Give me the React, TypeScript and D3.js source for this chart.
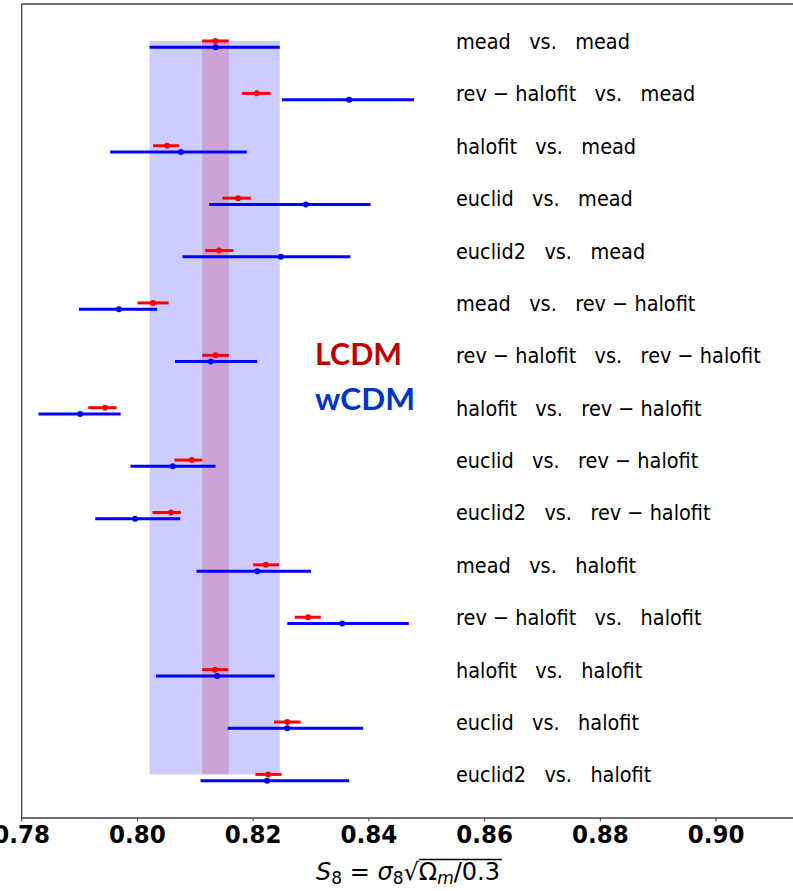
import React, { useLayoutEffect, useRef, useState } from "react";
import * as d3 from "d3";

const W = 793;
const H = 891;

const labels = [
  "mead   vs.   mead",
  "rev − halofit   vs.   mead",
  "halofit   vs.   mead",
  "euclid   vs.   mead",
  "euclid2   vs.   mead",
  "mead   vs.   rev − halofit",
  "rev − halofit   vs.   rev − halofit",
  "halofit   vs.   rev − halofit",
  "euclid   vs.   rev − halofit",
  "euclid2   vs.   rev − halofit",
  "mead   vs.   halofit",
  "rev − halofit   vs.   halofit",
  "halofit   vs.   halofit",
  "euclid   vs.   halofit",
  "euclid2   vs.   halofit",
];

const lcdmMean = [0.8135, 0.8206, 0.8051, 0.8174, 0.8141, 0.8027, 0.8135, 0.7944, 0.8094, 0.8058, 0.8222, 0.8295, 0.8134, 0.8259, 0.8226];
const lcdmLo = [0.8112, 0.8181, 0.8027, 0.8147, 0.8117, 0.8, 0.8112, 0.7915, 0.8064, 0.8026, 0.82, 0.8272, 0.8112, 0.8236, 0.8204];
const lcdmHi = [0.8158, 0.823, 0.8072, 0.8196, 0.8166, 0.8054, 0.8158, 0.7964, 0.8112, 0.8075, 0.8245, 0.8317, 0.8157, 0.8282, 0.8249];

const wcdmMean = [0.8135, 0.8366, 0.8075, 0.8291, 0.8248, 0.7968, 0.8127, 0.7901, 0.8061, 0.7996, 0.8207, 0.8354, 0.8138, 0.8259, 0.8224];
const wcdmLo = [0.8021, 0.825, 0.7953, 0.8124, 0.8078, 0.7899, 0.8065, 0.7829, 0.7988, 0.7927, 0.8102, 0.8259, 0.8032, 0.8156, 0.8109];
const wcdmHi = [0.8246, 0.8478, 0.8189, 0.8403, 0.8368, 0.8034, 0.8207, 0.7971, 0.8135, 0.8074, 0.83, 0.8469, 0.8237, 0.839, 0.8366];

const tickValues = [0.78, 0.8, 0.82, 0.84, 0.86, 0.88, 0.9];
const tickLabels = ["0.78", "0.80", "0.82", "0.84", "0.86", "0.88", "0.90"];

const BLUE_OFFSET = 0.12; // row units

const x = d3.scaleLinear().domain([0.78, 0.9133]).range([21.7, 793]);
const y = d3.scaleLinear().domain([-0.706, 14.832]).range([4, 818]);

const LEFT = 21.7;
const TOP = 4;
const BOTTOM = 818;
const SX = 0.92;

export default function App() {
  const labelRef = useRef<SVGTextElement>(null);
  const [over, setOver] = useState<{ x1: number; x2: number; y: number } | null>(null);

  useLayoutEffect(() => {
    const t = labelRef.current as any;
    if (!t) return;
    try {
      const a = t.getExtentOfChar(8);
      const b = t.getExtentOfChar(13);
      const r = t.getExtentOfChar(7);
      setOver({ x1: a.x, x2: b.x + b.width + 2, y: r.y + 1.5 });
    } catch (e) {}
  }, []);

  const rows = labels.map((_, i) => i);
  const n = labels.length;

  return (
    <svg
      width={W}
      height={H}
      style={{ position: "absolute", left: 0, top: 0, background: "#fff" }}
      fontFamily="DejaVu Sans"
    >
      <rect x={0} y={0} width={W} height={H} fill="#fff" />
      {/* bands */}
      <rect
        x={x(lcdmLo[0])}
        y={y(0)}
        width={x(lcdmHi[0]) - x(lcdmLo[0])}
        height={y(n - 1) - y(0)}
        fill="rgb(255,0,0)"
        fillOpacity={0.2}
      />
      <rect
        x={x(wcdmLo[0])}
        y={y(0)}
        width={x(wcdmHi[0]) - x(wcdmLo[0])}
        height={y(n - 1) - y(0)}
        fill="rgb(0,0,255)"
        fillOpacity={0.2}
      />
      {/* error bars */}
      {rows.map((i) => (
        <g key={"e" + i}>
          <line x1={x(lcdmLo[i])} x2={x(lcdmHi[i])} y1={y(i)} y2={y(i)} stroke="#ff0000" strokeWidth={3} />
          <circle cx={x(lcdmMean[i])} cy={y(i)} r={3} fill="#ff0000" />
          <line
            x1={x(wcdmLo[i])}
            x2={x(wcdmHi[i])}
            y1={y(i + BLUE_OFFSET)}
            y2={y(i + BLUE_OFFSET)}
            stroke="#0000ff"
            strokeWidth={3}
          />
          <circle cx={x(wcdmMean[i])} cy={y(i + BLUE_OFFSET)} r={3} fill="#0000ff" />
        </g>
      ))}
      {/* row labels */}
      {rows.map((i) => (
        <text
          key={"l" + i}
          transform={`translate(456,${y(i) + 8}) scale(${SX},1)`}
          fontSize={21}
          fill="#000"
          style={{ whiteSpace: "pre" }}
        >
          {labels[i]}
        </text>
      ))}
      {/* LCDM / wCDM */}
      <text x={315} y={365} fontFamily="Lato" fontWeight="bold" fontSize={31} fill="#c00000" textLength={87} lengthAdjust="spacingAndGlyphs">
        LCDM
      </text>
      <text x={315} y={410} fontFamily="Lato" fontWeight="bold" fontSize={31} fill="#0033cc" textLength={100} lengthAdjust="spacingAndGlyphs">
        wCDM
      </text>
      {/* spines */}
      <line x1={LEFT} x2={LEFT} y1={TOP} y2={BOTTOM} stroke="#404040" strokeWidth={1.3} />
      <line x1={LEFT} x2={W} y1={TOP} y2={TOP} stroke="#404040" strokeWidth={1.3} />
      <line x1={LEFT} x2={W} y1={BOTTOM} y2={BOTTOM} stroke="#404040" strokeWidth={1.3} />
      {/* ticks */}
      {tickValues.map((v, k) => (
        <g key={"t" + k}>
          <line x1={x(v)} x2={x(v)} y1={BOTTOM} y2={BOTTOM + 3.5} stroke="#404040" strokeWidth={1} />
          <text
            transform={`translate(${x(v)},843) scale(${SX},1)`}
            textAnchor="middle"
            fontSize={25}
            fontWeight="bold"
            fill="#000"
          >
            {tickLabels[k]}
          </text>
        </g>
      ))}
      {/* x axis label */}
      <text ref={labelRef} x={316} y={880} fontSize={24} fill="#000" style={{ whiteSpace: "pre" }}>
        <tspan fontStyle="italic">S</tspan>
        <tspan fontSize={17} dy={4}>8</tspan>
        <tspan dy={-4}> = </tspan>
        <tspan fontStyle="italic">σ</tspan>
        <tspan fontSize={17} dy={4}>8</tspan>
        <tspan dy={-4}>√</tspan>
        <tspan>Ω</tspan>
        <tspan fontStyle="italic" fontSize={17} dy={4}>m</tspan>
        <tspan dy={-4}>/0.3</tspan>
      </text>
      {over && <line x1={over.x1} x2={over.x2} y1={over.y} y2={over.y} stroke="#000" strokeWidth={1.5} />}
    </svg>
  );
}
